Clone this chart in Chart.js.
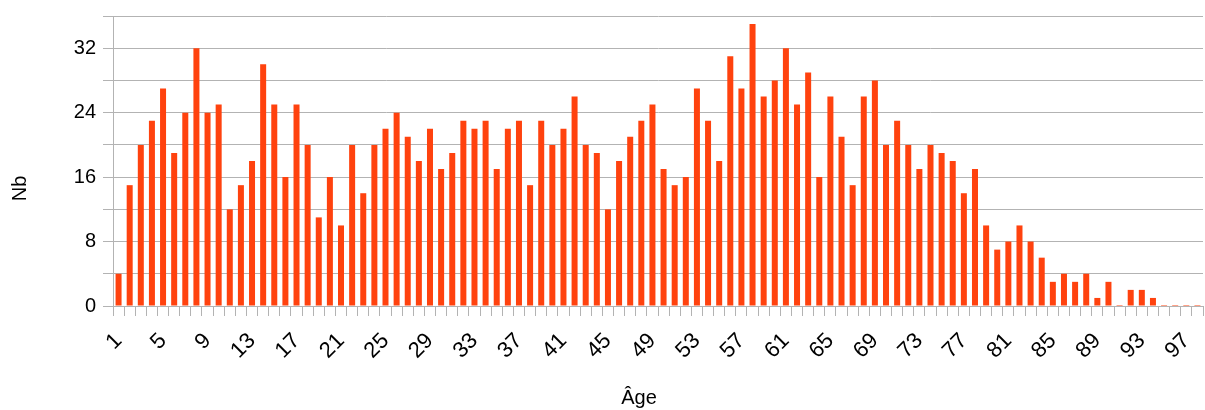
<!DOCTYPE html>
<html>
<head>
<meta charset="utf-8">
<script src="https://cdn.jsdelivr.net/npm/chart.js@4/dist/chart.umd.min.js"></script>
<style>
  html, body { margin: 0; padding: 0; background: #fff; }
  #wrap { width: 1205px; height: 410px; }
</style>
</head>
<body>
<div id="wrap"><canvas id="chart" width="1205" height="410"></canvas></div>
<script>
const ages = Array.from({ length: 98 }, (_, i) => String(i + 1));
const counts = [
  4, 15, 20, 23, 27, 19, 24, 32, 24, 25,
  12, 15, 18, 30, 25, 16, 25, 20, 11, 16,
  10, 20, 14, 20, 22, 24, 21, 18, 22, 17,
  19, 23, 22, 23, 17, 22, 23, 15, 23, 20,
  22, 26, 20, 19, 12, 18, 21, 23, 25, 17,
  15, 16, 27, 23, 18, 31, 27, 35, 26, 28,
  32, 25, 29, 16, 26, 21, 15, 26, 28, 20,
  23, 20, 17, 20, 19, 18, 14, 17, 10, 7,
  8, 10, 8, 6, 3, 4, 3, 4, 1, 3,
  0, 2, 2, 1, 0, 0, 0, 0
];
const yLabelStep = 8;
const xTitle = 'Âge';
const yTitle = 'Nb';

const font = { family: 'Liberation Sans', size: 20 };
const gridColor = '#b3b3b3';

// axis titles are centred on the plot + tick-label block, like the original
const axisTitles = {
  id: 'axisTitles',
  afterDraw(chart) {
    const { ctx, chartArea } = chart;
    ctx.save();
    ctx.fillStyle = '#000';
    ctx.font = '20px "Liberation Sans"';
    ctx.textAlign = 'center';
    ctx.textBaseline = 'middle';
    ctx.fillText(xTitle, (chartArea.left - 38 + chartArea.right) / 2, 398);
    ctx.translate(20, (chartArea.top + chartArea.bottom + 55) / 2);
    ctx.rotate(-Math.PI / 2);
    ctx.fillText(yTitle, 0, 0);
    ctx.restore();
  }
};

new Chart(document.getElementById('chart').getContext('2d'), {
  type: 'bar',
  data: {
    labels: ages,
    datasets: [{
      label: 'Nb',
      data: counts,
      backgroundColor: '#ff420e',
      categoryPercentage: 1,
      barPercentage: 0.54,
      minBarLength: 1
    }]
  },
  options: {
    responsive: false,
    animation: false,
    layout: { padding: { top: 16, right: 2, left: 0, bottom: 0 } },
    plugins: { legend: { display: false }, tooltip: { enabled: false } },
    scales: {
      x: {
        grid: { drawOnChartArea: false, drawTicks: true, tickLength: 10, color: gridColor },
        border: { color: gridColor },
        ticks: {
          autoSkip: false,
          maxRotation: 45,
          minRotation: 45,
          padding: 12,
          color: '#000',
          font: { family: 'Liberation Sans', size: 22 },
          callback: (v, i) => (i % 4 === 0 ? ages[i] : '')
        },
        afterFit: s => { s.height = 104; s.paddingLeft = 0; s.paddingRight = 0; }
      },
      y: {
        min: 0,
        max: 36,
        grid: { color: gridColor, tickLength: 10 },
        border: { color: gridColor },
        ticks: {
          stepSize: 4,
          padding: 7,
          color: '#000',
          font,
          callback: v => (v % yLabelStep === 0 ? v : '')
        },
        afterFit: s => { s.width = 113; s.paddingTop = 0; s.paddingBottom = 0; }
      }
    }
  },
  plugins: [axisTitles]
});
</script>
</body>
</html>
